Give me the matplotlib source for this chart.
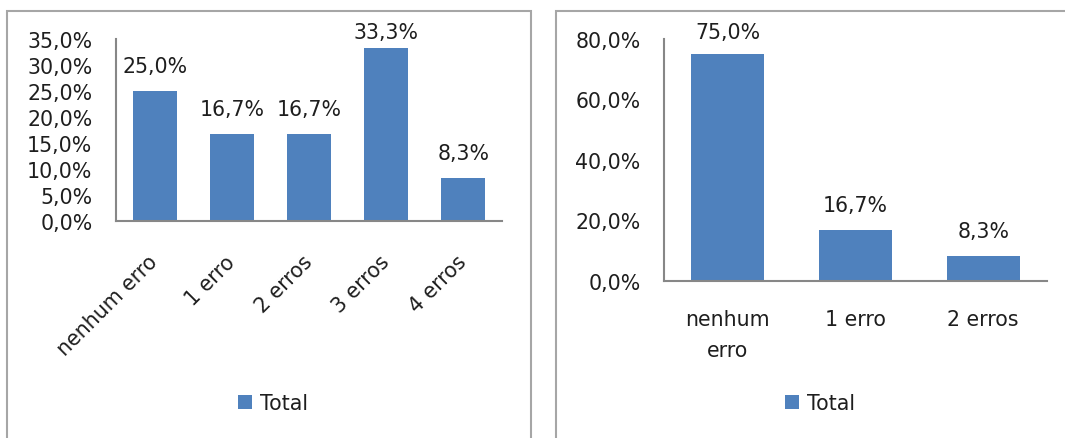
import matplotlib
matplotlib.use("Agg")
import matplotlib.pyplot as plt
from matplotlib.patches import Rectangle, Patch

# ---- data ----
left_categories = ["nenhum erro", "1 erro", "2 erros", "3 erros", "4 erros"]
left_values = [25.0, 16.7, 16.7, 33.3, 8.3]
left_yticks = [0, 5, 10, 15, 20, 25, 30, 35]

right_categories = ["nenhum\nerro", "1 erro", "2 erros"]
right_values = [75.0, 16.7, 8.3]
right_yticks = [0, 20, 40, 60, 80]

series_name = "Total"

# ---- style ----
W, H = 1065, 439
BAR = "#4F81BD"
TXT = "#1E1E1E"
AXC = "#878787"
BORDER = "#A6A6A6"
FS = 14.8
plt.rcParams["font.family"] = ["DejaVu Sans"]

fig = plt.figure(figsize=(W / 100, H / 100), dpi=100)


def px_axes(l, t, r, b):
    return fig.add_axes([l / W, 1 - b / H, (r - l) / W, (b - t) / H])


def fmt(v):
    return f"{v:.1f}".replace(".", ",") + "%"


# panel borders
for (l, r) in [(7, 531), (556, 1090)]:
    fig.patches.append(Rectangle((l / W, -0.1), (r - l) / W, 1.1 - 12 / H,
                                 transform=fig.transFigure, fill=False,
                                 edgecolor=BORDER, linewidth=1.5))


def draw(ax, cats, vals, yticks, width, rotate, xpad):
    x = list(range(len(cats)))
    ax.bar(x, vals, width=width, color=BAR, edgecolor="none", zorder=2)
    ax.set_xlim(-0.5, len(cats) - 0.5)
    ax.set_ylim(0, yticks[-1])
    ax.set_yticks(yticks)
    ax.set_yticklabels([fmt(v) for v in yticks], fontsize=FS, color=TXT)
    ax.set_xticks(x)
    for s in ["top", "right"]:
        ax.spines[s].set_visible(False)
    for s in ["left", "bottom"]:
        ax.spines[s].set_color(AXC)
        ax.spines[s].set_linewidth(1.5)
    ax.tick_params(axis="y", length=0, pad=17)
    ax.tick_params(axis="x", length=0, pad=xpad)
    if rotate:
        ax.set_xticklabels(cats, fontsize=FS, color=TXT, rotation=45,
                           ha="right", va="center", rotation_mode="anchor")
    else:
        ax.set_xticklabels(cats, fontsize=FS, color=TXT, linespacing=1.7)
    # data labels: 25 px above bar top, clamped at y=33 px from figure top
    inv = fig.transFigure.inverted()
    for xi, v in zip(x, vals):
        dx, dy = ax.transData.transform((xi, v))
        ty = min(dy + 25, H - 33)
        fx, fy = inv.transform((dx, ty))
        fig.text(fx, fy, fmt(v), fontsize=FS, color=TXT,
                 ha="center", va="center")
    ax.patch.set_alpha(0)


axL = px_axes(116, 40, 502, 222)
draw(axL, left_categories, left_values, left_yticks, 0.57, True, 27)

axR = px_axes(664, 40, 1047, 282)
draw(axR, right_categories, right_values, right_yticks, 0.57, False, 20)

for cx in [273 / W, 820 / W]:
    fig.legend(handles=[Patch(facecolor=BAR, edgecolor="none")],
               labels=[series_name], loc="center",
               bbox_to_anchor=(cx, 1 - 404 / H), frameon=False,
               fontsize=FS, handlelength=0.7, handleheight=0.7,
               handletextpad=0.4, labelcolor=TXT, borderpad=0)

fig.savefig("out.png", dpi=100)
